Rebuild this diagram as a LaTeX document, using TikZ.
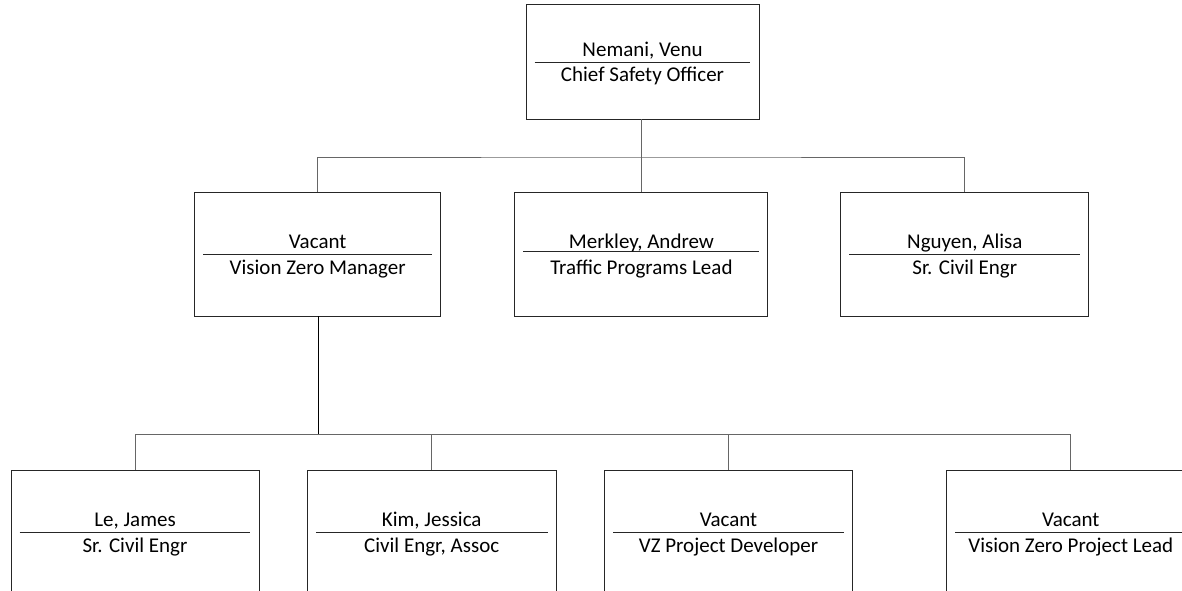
\documentclass[tikz,border=0pt]{standalone}
\usepackage{fontspec}
\setmainfont{Carlito}
\usetikzlibrary{calc}
\tikzset{
  orgbox/.style={draw=black!85, line width=0.9pt, inner sep=0pt, minimum height=124pt, minimum width=248pt},
  conn/.style={draw=black!60, line width=0.9pt},
  thickconn/.style={draw=black, line width=1.8pt},
  sep/.style={draw=black!85, line width=0.9pt},
  lbl/.style={anchor=base, inner sep=0pt, font=\fontsize{21}{24}\selectfont}
}
\newcommand{\orgtext}[4]{%
  \draw[sep] ($(#1.west)+(9,#2)$) -- ($(#1.east)+(-9,#2)$);
  \node[lbl] (#1-name) at ($(#1.center)+(0,-5.5)$) {#3};
  \node[lbl] (#1-title) at ($(#1.center)+(0,20)$) {#4};
}
\begin{document}
\begin{tikzpicture}[x=1pt,y=-1pt]
\useasboundingbox (0,0) rectangle (1182,590);
\begin{scope}
\clip (0,0) rectangle (1182,590);
% boxes
\node[orgbox, minimum width=233pt, minimum height=115pt] (top) at (642.5,61.5) {};
\node[orgbox, minimum width=246pt] (mA) at (317.7,254) {};
\node[orgbox, minimum width=253pt] (mB) at (641.4,254) {};
\node[orgbox] (mC) at (964.8,254) {};
\node[orgbox] (s1) at (135,532) {};
\node[orgbox, minimum width=248.7pt] (s2) at (431.7,532) {};
\node[orgbox] (s3) at (728.5,532) {};
\node[orgbox] (s4) at (1070.8,532) {};
% texts
\orgtext{top}{0.5}{Nemani, Venu}{Chief Safety Officer}
\orgtext{mA}{0}{Vacant}{Vision Zero Manager}
\orgtext{mB}{-3}{Merkley, Andrew}{Traffic Programs Lead}
\orgtext{mC}{0}{Nguyen, Alisa}{Sr. Civil Engr}
\orgtext{s1}{0}{Le, James}{Sr. Civil Engr}
\orgtext{s2}{0}{Kim, Jessica}{Civil Engr, Assoc}
\orgtext{s3}{0}{Vacant}{VZ Project Developer}
\orgtext{s4}{0}{Vacant}{Vision Zero Project Lead}
% connectors
\coordinate (bus1) at (641.5,157);
\coordinate (bus2) at (318.5,434);
\draw[conn] (top.south -| bus1) -- (bus1);
\draw[conn] (mA.north) |- (bus1) -| (mC.north);
\draw[conn] (bus1) -- (mB.north -| bus1);
\draw[thickconn] (mA.south -| bus2) -- (bus2);
\draw[conn] (s1.north) |- (bus2) -| (s4.north);
\draw[conn] (s2.north) -- (s2.north |- bus2);
\draw[conn] (s3.north) -- (s3.north |- bus2);
\end{scope}
\end{tikzpicture}
\end{document}
